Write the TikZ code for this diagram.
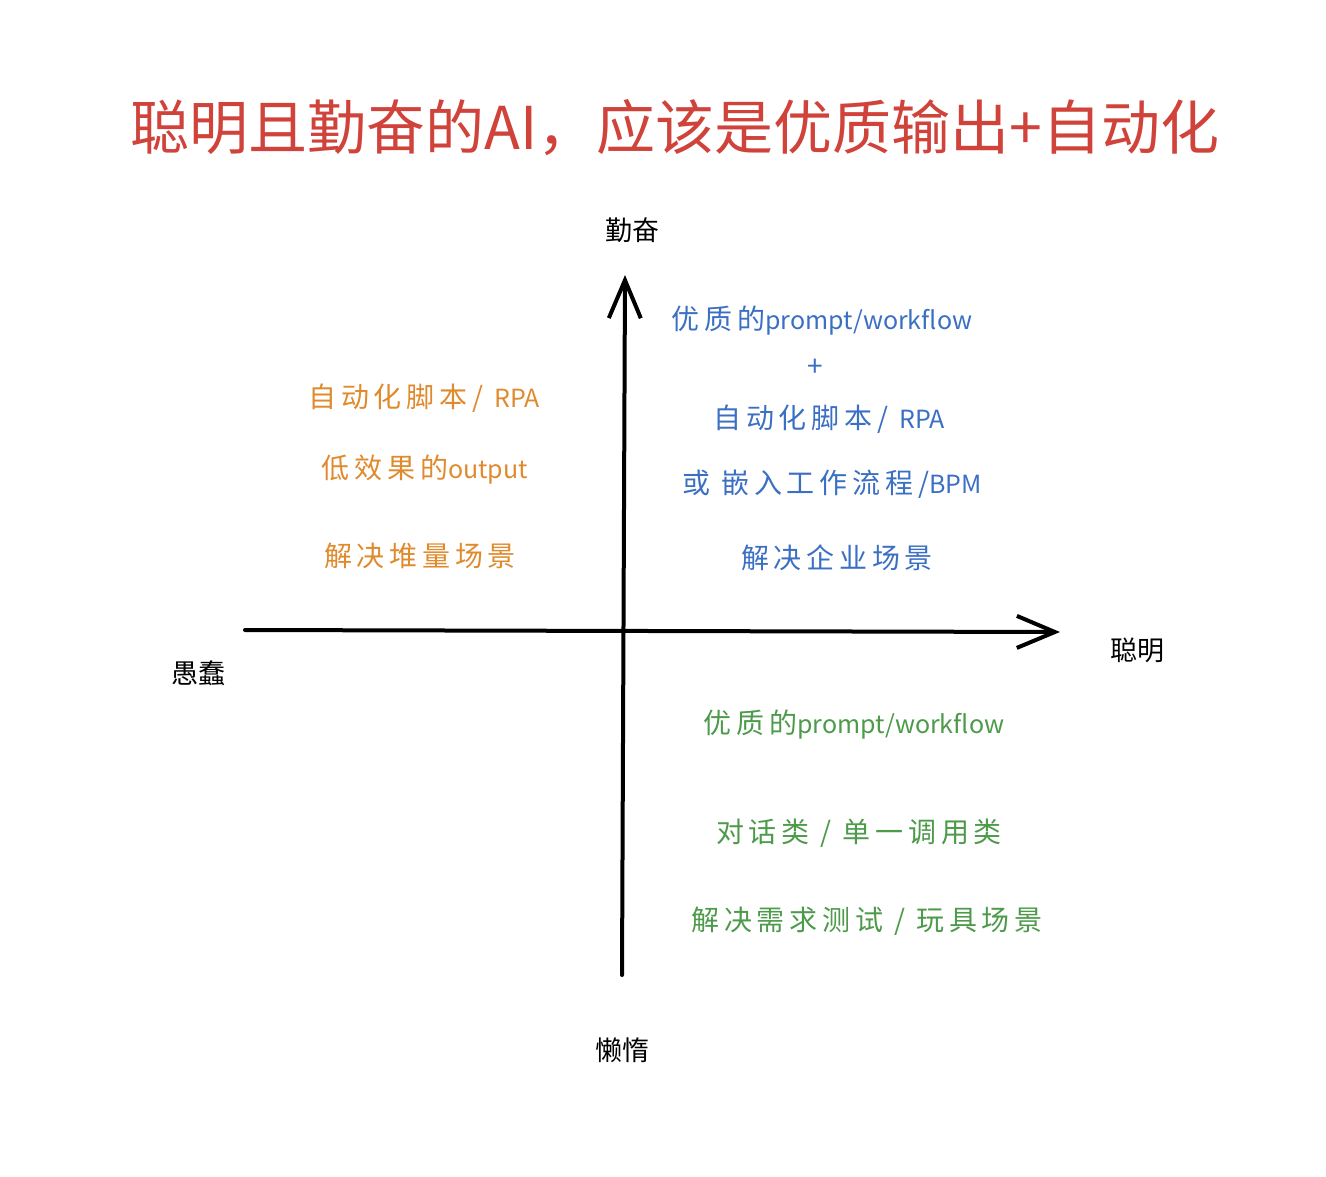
\documentclass[tikz,border=0pt]{standalone}
\usepackage{fontspec}
\setmainfont{Noto Sans CJK SC}
\newfontfamily\hanfont[LetterSpace=17]{Noto Sans CJK SC}
\newcommand\lat[1]{{\normalfont\fontsize{25}{30}\selectfont #1}}
\usepackage{xcolor}
\usepackage{tikz}
\usetikzlibrary{arrows.meta, positioning}

\definecolor{titlered}{HTML}{D0433B}
\definecolor{lazyorange}{HTML}{E08A2E}
\definecolor{goodblue}{HTML}{3B6FC3}
\definecolor{chatgreen}{HTML}{4C9A4A}

\begin{document}
\begin{tikzpicture}[x=1pt, y=-1pt,
    axis/.style={line width=4pt, line cap=round, -{Straight Barb[length=38pt, width=32pt, line width=4pt]}},
    axislabel/.style={font=\fontsize{27}{30}\selectfont, text=black},
    quad/.style={font=\hanfont\fontsize{28}{32}\selectfont, inner sep=0pt}]
      \useasboundingbox (0,0) rectangle (1326,1176);

      % Title
      \node[font=\fontsize{59}{66}\selectfont, text=titlered] (title) at (675,128) {聪明且勤奋的AI，应该是优质输出+自动化};

      % Axes
      \coordinate (xl) at (245,630);
      \coordinate (xr) at (1060,632);
      \coordinate (yb) at (622,975);
      \coordinate (yt) at (625,275);
      \draw[axis] (xl) -- (xr);
      \draw[axis] (yb) -- (yt);

      \node[axislabel] (diligent) at (632,230) {勤奋};
      \node[axislabel] (smart) at (1137,650) {聪明};
      \node[axislabel] (dumb) at (198,673) {愚蠢};
      \node[axislabel] (lazy) at (622,1050) {懒惰};

      % Quadrant: dumb and diligent
      \node[quad, text=lazyorange] (o1) at (424,398) {自动化脚本/ \lat{RPA}};
      \node[quad, text=lazyorange] (o2) at (425,470) {低效果的\lat{output}};
      \node[quad, text=lazyorange] (o3) at (420,556) {解决堆量场景};

      % Quadrant: smart and diligent
      \node[quad, text=goodblue] (b1) at (822,321) {优质的\lat{prompt/workflow}};
      \node[quad, text=goodblue] (b2) at (815,368) {+};
      \node[quad, text=goodblue] (b3) at (829,419) {自动化脚本/ \lat{RPA}};
      \node[quad, text=goodblue] (b4) at (832,484) {或\ 嵌入工作流程/\lat{BPM}};
      \node[quad, text=goodblue] (b5) at (837,558) {解决企业场景};

      % Quadrant: smart and lazy
      \node[quad, text=chatgreen] (g1) at (854,725) {优质的\lat{prompt/workflow}};
      \node[quad, text=chatgreen] (g2) at (859,833) {对话类 / 单一调用类};
      \node[quad, text=chatgreen] (g3) at (867,921) {解决需求测试 / 玩具场景};
\end{tikzpicture}
\end{document}
